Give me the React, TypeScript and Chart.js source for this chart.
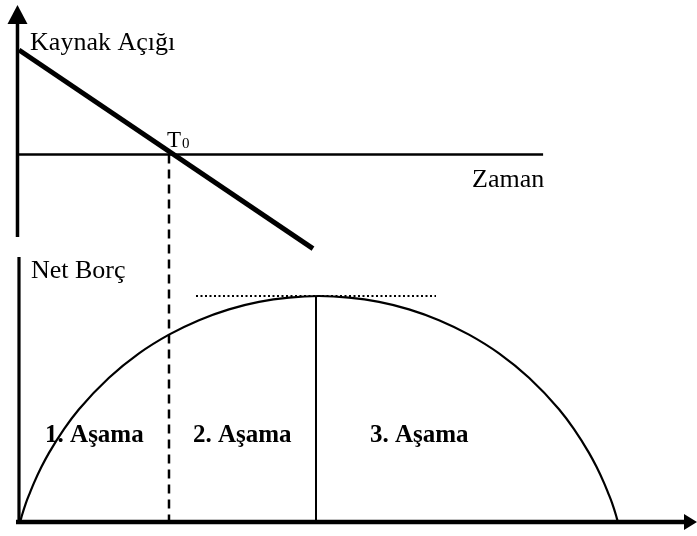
import React, { useEffect, useRef } from "react";
import { Chart, registerables } from "chart.js";

Chart.register(...registerables);

// ---- data (time units on x; deficit on top panel, net debt on bottom panel) ----
const DEFICIT_T = [0, 9.8];
const DEFICIT_V = [5, -4.5];
const ZERO_LINE_T = [0, 17.47];
const TOP_AXIS_V = [-3.95, 6.6];
const TOP_AXIS_TIP = 7.15;
const BOT_AXIS_DEBT = [0, 117.3];
const BOT_AXIS_T = [-0.1, 22.2];
const BOT_AXIS_TIP = 22.6;
const ARC_T = [0.03, 0.07, 0.1, 0.23, 0.37, 0.5, 0.75, 1, 1.5, 2, 3, 4, 5, 6, 7, 8, 9, 10, 11, 12, 13, 14, 15, 16, 17, 18, 18.5, 19, 19.25, 19.5, 19.63, 19.77, 19.9, 19.93, 19.97];
const ARC_DEBT = [0, 1.5, 3.0, 8.4, 13.1, 17.3, 24.4, 30.6, 41.1, 49.9, 63.8, 74.6, 82.9, 89.3, 94.1, 97.4, 99.3, 100, 99.3, 97.4, 94.1, 89.3, 82.9, 74.6, 63.8, 49.9, 41.1, 30.6, 24.4, 17.3, 13.1, 8.4, 3.0, 1.5, 0];
const PEAK_T = 9.9;
const PEAK_DEBT = 100;
const DOTTED_T = [5.9, 13.9];
const T0 = 5.0;

const LABEL_TEXT = ["Kaynak Açığı", "Zaman", "Net Borç", "1. Aşama", "2. Aşama", "3. Aşama"];
const LABEL_T = [0.37, 15.1, 0.4, 0.87, 5.8, 11.7];
const LABEL_V = [5.0, -1.56, 108, 35.4, 35.4, 35.4];
const LABEL_AXIS = ["yTop", "yTop", "yBot", "yBot", "yBot", "yBot"];
const LABEL_BOLD = [false, false, false, true, true, true];
const LABEL_SIZE = [26, 26, 26, 25, 25, 25];

const FONT = "'Liberation Serif', 'Times New Roman', serif";

function pts(xs: number[], ys: number[]) {
  return xs.map((x, i) => ({ x, y: ys[i] }));
}

const overlay = {
  id: "overlay",
  afterDatasetsDraw(chart: any) {
    const ctx = chart.ctx;
    const x = chart.scales.x;
    const yTop = chart.scales.yTop;
    const yBot = chart.scales.yBot;
    ctx.save();
    // dashed T0 line linking the two panels
    ctx.strokeStyle = "#000";
    ctx.lineWidth = 2.5;
    ctx.setLineDash([9, 6]);
    ctx.beginPath();
    const tx = x.getPixelForValue(T0);
    ctx.moveTo(tx, yTop.getPixelForValue(0));
    ctx.lineTo(tx, yBot.getPixelForValue(0));
    ctx.stroke();
    ctx.setLineDash([]);

    // arrow heads
    ctx.fillStyle = "#000";
    const ax = x.getPixelForValue(-0.05);
    const tipY = yTop.getPixelForValue(TOP_AXIS_TIP);
    ctx.beginPath();
    ctx.moveTo(ax, tipY);
    ctx.lineTo(ax - 10, tipY + 19);
    ctx.lineTo(ax + 10, tipY + 19);
    ctx.closePath();
    ctx.fill();

    const ay = yBot.getPixelForValue(0);
    const tipX = x.getPixelForValue(BOT_AXIS_TIP);
    ctx.beginPath();
    ctx.moveTo(tipX, ay);
    ctx.lineTo(tipX - 13, ay - 8);
    ctx.lineTo(tipX - 13, ay + 8);
    ctx.closePath();
    ctx.fill();

    // labels
    ctx.textBaseline = "alphabetic";
    ctx.textAlign = "left";
    LABEL_TEXT.forEach((txt, i) => {
      const sc = chart.scales[LABEL_AXIS[i]];
      const px = x.getPixelForValue(LABEL_T[i]);
      const py = sc.getPixelForValue(LABEL_V[i]);
      ctx.font = `${LABEL_BOLD[i] ? "bold " : ""}${LABEL_SIZE[i]}px ${FONT}`;
      ctx.fillText(txt, px, py);
    });

    // T0 label
    const t0x = x.getPixelForValue(T0 - 0.07);
    const t0y = yTop.getPixelForValue(0.36);
    ctx.font = `23px ${FONT}`;
    ctx.fillText("T", t0x, t0y);
    const tw = ctx.measureText("T").width;
    ctx.font = `15px ${FONT}`;
    ctx.fillText("0", t0x + tw + 1, t0y + 1);

    ctx.restore();
  },
};

export default function App() {
  const ref = useRef<HTMLCanvasElement | null>(null);
  useEffect(() => {
    document.body.style.margin = "0";
    const canvas = ref.current!;
    const line = (data: any[], axis: string, width: number, extra: any = {}) => ({
      data,
      yAxisID: axis,
      borderColor: "#000",
      borderWidth: width,
      pointRadius: 0,
      fill: false,
      tension: 0,
      ...extra,
    });
    const chart = new Chart(canvas, {
      type: "line",
      data: {
        datasets: [
          line(pts([-0.05, -0.05], TOP_AXIS_V), "yTop", 3.5),
          line(pts(ZERO_LINE_T, [0, 0]), "yTop", 2.5),
          line(pts(DEFICIT_T, DEFICIT_V), "yTop", 5),
          line(pts([0, 0], BOT_AXIS_DEBT), "yBot", 3.2),
          line(pts(BOT_AXIS_T, [0, 0]), "yBot", 4.5),
          line(pts(ARC_T, ARC_DEBT), "yBot", 2.2, { cubicInterpolationMode: "monotone" }),
          line(pts([PEAK_T, PEAK_T], [0, PEAK_DEBT]), "yBot", 2),
          line(pts(DOTTED_T, [PEAK_DEBT, PEAK_DEBT]), "yBot", 2, { borderDash: [2, 2.5] }),
        ] as any,
      },
      options: {
        animation: false,
        responsive: false,
        maintainAspectRatio: false,
        layout: { padding: 0 },
        plugins: { legend: { display: false }, tooltip: { enabled: false } },
        scales: {
          x: { type: "linear", display: false, min: -0.633, max: 22.6 },
          yTop: { type: "linear", display: false, min: -18.25, max: 7.39 },
          yBot: { type: "linear", display: false, min: -6.19, max: 230.97 },
        },
      } as any,
      plugins: [overlay],
    });
    return () => chart.destroy();
  }, []);
  return (
    <div style={{ position: "fixed", left: 0, top: 0, width: 697, height: 536, background: "#fff" }}>
      <canvas ref={ref} width={697} height={536} style={{ display: "block" }} />
    </div>
  );
}
